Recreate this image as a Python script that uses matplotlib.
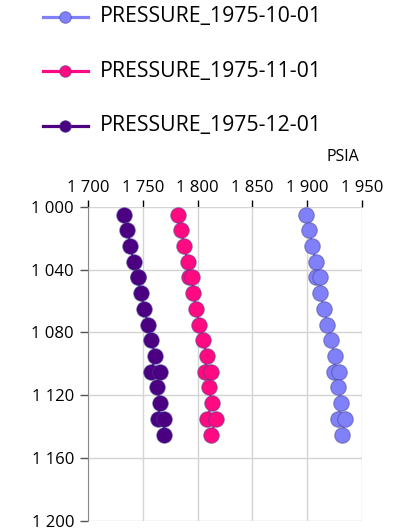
import matplotlib
matplotlib.use("Agg")
import matplotlib.pyplot as plt
from matplotlib.lines import Line2D
from matplotlib.ticker import FuncFormatter

plt.rcParams['font.family'] = ['Open Sans', 'DejaVu Sans']

series_labels = ["PRESSURE_1975-10-01", "PRESSURE_1975-11-01", "PRESSURE_1975-12-01"]
series_colors = ["#8080F8", "#FF0A80", "#4B0082"]

depth = [1005, 1015, 1025, 1035, 1045, 1045, 1055, 1065, 1075, 1085, 1095,
         1105, 1105, 1115, 1125, 1135, 1135, 1145]
press_oct = [1898.6, 1901.7, 1904.7, 1907.7, 1908.3, 1911.4, 1912.0, 1915.3, 1918.4,
             1922.0, 1925.0, 1924.4, 1928.6, 1928.0, 1931.0, 1928.0, 1934.7, 1931.7]
press_nov = [1781.7, 1784.7, 1788.0, 1790.8, 1792.3, 1795.0, 1796.2, 1798.6, 1801.7,
             1805.3, 1808.3, 1806.8, 1812.0, 1810.2, 1813.2, 1808.3, 1816.8, 1812.3]
press_dec = [1732.6, 1736.0, 1738.6, 1741.7, 1745.3, 1745.3, 1748.3, 1751.4, 1754.7,
             1757.7, 1761.4, 1757.7, 1765.3, 1762.9, 1765.9, 1763.8, 1769.5, 1768.9]
series_values = [press_oct, press_nov, press_dec]

x_ticks = [1700, 1750, 1800, 1850, 1900, 1950]
y_ticks = [1000, 1040, 1080, 1120, 1160, 1200]
x_unit = "PSIA"

W, H = 404, 531
fig = plt.figure(figsize=(W / 100, H / 100), dpi=100)
left, right, top, bottom = 88, 362, 206.7, 521
ax = fig.add_axes([left / W, 1 - bottom / H, (right - left) / W, (bottom - top) / H])

edge = (0.25, 0.25, 0.55, 0.5)
for vals, col in zip(series_values, series_colors):
    ax.plot(vals, depth, color=col, lw=1.5, marker='o', ms=11.2,
            markerfacecolor=col, markeredgecolor=edge, markeredgewidth=0.8, zorder=3)

ax.set_xlim(x_ticks[0], x_ticks[-1])
ax.set_ylim(y_ticks[-1], y_ticks[0])
ax.set_xticks(x_ticks)
ax.set_yticks(y_ticks)
fmt = FuncFormatter(lambda v, p: f"{int(round(v)):,}".replace(",", " "))
ax.xaxis.set_major_formatter(fmt)
ax.yaxis.set_major_formatter(fmt)
ax.xaxis.tick_top()
ax.grid(True, color="#d4d4d4", lw=1, zorder=0)
for s in ['top', 'right', 'bottom']:
    ax.spines[s].set_visible(False)
ax.spines['left'].set_color("#8a8a8a")
ax.tick_params(axis='x', which='major', top=True, bottom=False, direction='out',
               length=5, width=1, color='black', labelsize=12, pad=3)
ax.tick_params(axis='y', direction='out', length=6, width=1, color='#555555',
               labelsize=12, pad=4)
ax.set_axisbelow(True)

fig.text(343 / W, 1 - 157 / H, x_unit, ha='center', va='center', fontsize=11.5)

for i, (lab, col) in enumerate(zip(series_labels, series_colors)):
    yy = 1 - (16.5 + 54.5 * i) / H
    fig.add_artist(Line2D([43 / W, 88 / W], [yy, yy], color=col, lw=2.3,
                          transform=fig.transFigure))
    fig.add_artist(Line2D([65 / W], [yy], marker='o', ms=8.4, color=col,
                          markeredgecolor=edge, markeredgewidth=0.8,
                          transform=fig.transFigure))
    fig.text(100 / W, yy, lab, ha='left', va='center', fontsize=15.3)

fig.savefig("out.png", dpi=100)
